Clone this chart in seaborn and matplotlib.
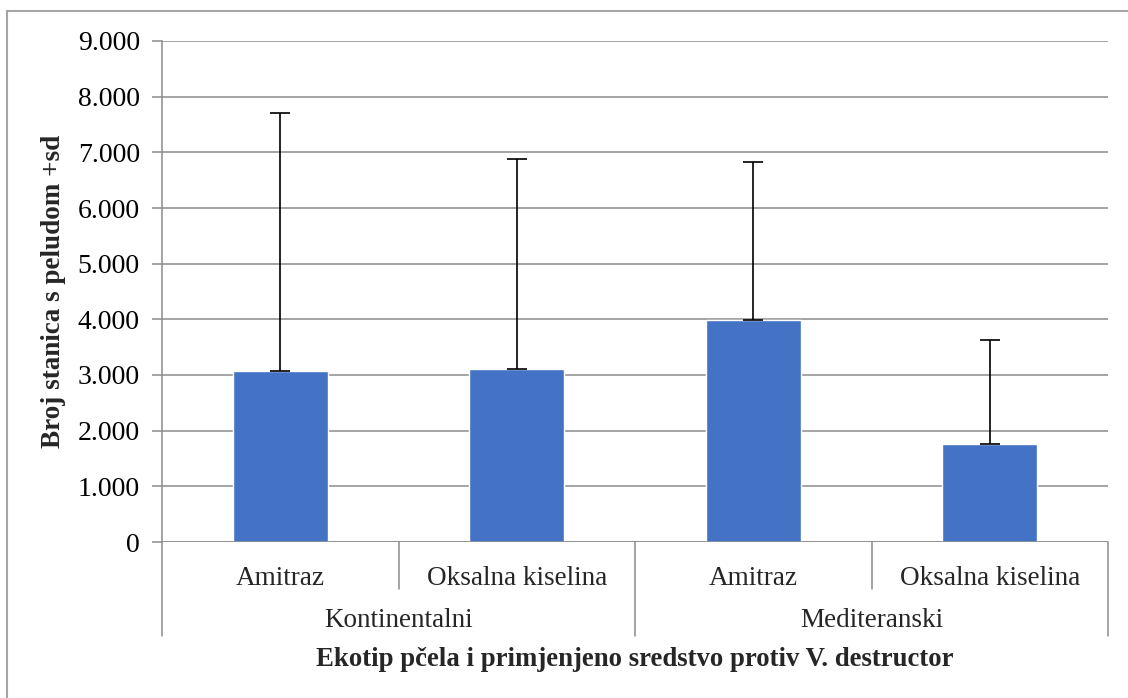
import numpy as np
import pandas as pd
import seaborn as sns
import matplotlib.pyplot as plt
from matplotlib.patches import Rectangle
from matplotlib.lines import Line2D
from matplotlib.ticker import FuncFormatter

# data
ekotip = ["Kontinentalni", "Kontinentalni", "Mediteranski", "Mediteranski"]
sredstvo = ["Amitraz", "Oksalna kiselina", "Amitraz", "Oksalna kiselina"]
srednja = [3070, 3100, 3990, 1760]
sd = [4640, 3780, 2830, 1870]

df = pd.DataFrame({"ekotip": ekotip, "sredstvo": sredstvo,
                   "vrijednost": srednja, "sd": sd})
df["grupa"] = [f"{e}|{s}" for e, s in zip(ekotip, sredstvo)]

sns.set_style("white")
plt.rcParams["font.family"] = ["Liberation Serif", "DejaVu Serif"]

fig = plt.figure(figsize=(11.28, 6.98), dpi=100)
ax = fig.add_axes([162 / 1128, 1 - 542 / 698, (1108 - 162) / 1128, (542 - 41) / 698])

sns.barplot(data=df, x="grupa", y="vrijednost", color="#4472C4", width=0.4,
            saturation=1, errorbar=None, ax=ax)
ax.errorbar(np.arange(len(df)), df["vrijednost"],
            yerr=[np.zeros(len(df)), df["sd"]], fmt="none",
            ecolor="black", elinewidth=1.2, capsize=7, capthick=1.2)

grid_c = "#8c8c8c"
ax.set_ylim(0, 9000)
ax.set_xlim(-0.5, 3.5)
ax.set_yticks(np.arange(0, 9001, 1000))
ax.yaxis.set_major_formatter(FuncFormatter(lambda v, p: f"{v/1000:.3f}" if v else "0"))
ax.yaxis.grid(True, color=grid_c, linewidth=1.1)
ax.set_axisbelow(True)
for s in ["top", "right", "bottom"]:
    ax.spines[s].set_visible(False)
ax.spines["left"].set_color(grid_c)
ax.spines["left"].set_linewidth(1.1)
ax.tick_params(axis="y", which="major", left=True, length=7, width=1.1,
               color=grid_c, labelsize=20, pad=9, labelcolor="black")
ax.set_xticks([])
ax.set_xlabel("")
ax.set_ylabel("Broj stanica s peludom +sd", fontsize=19.5, fontweight="bold")
ax.yaxis.set_label_coords(-0.101, 0.5)

# multi-level category axis
trans = ax.get_xaxis_transform()
ax.axhline(0, color=grid_c, linewidth=1.1, zorder=5)
for i, lab in enumerate(sredstvo):
    ax.text(i, -0.072, lab, transform=trans, ha="center", va="center",
            fontsize=19.5)
for xv in [0.5, 2.5]:
    ax.add_line(Line2D([xv, xv], [0, -0.094], transform=trans, color=grid_c,
                       linewidth=1.1, clip_on=False))
for xv in [-0.5, 1.5, 3.5]:
    ax.add_line(Line2D([xv, xv], [0, -0.188], transform=trans, color=grid_c,
                       linewidth=1.1, clip_on=False))
grupe = list(dict.fromkeys(ekotip))
for j, g in enumerate(grupe):
    ax.text(2 * j + 0.5, -0.156, g, transform=trans, ha="center", va="center",
            fontsize=19.5)

fig.text(635 / 1128, 1 - 660 / 698,
         "Ekotip pčela i primjenjeno sredstvo protiv V. destructor",
         ha="center", va="center", fontsize=19.3, fontweight="bold")

# outer chart border
fig.patches.append(Rectangle((7 / 1128, -0.05), 1.2, 1 - 11 / 698 + 0.05,
                             transform=fig.transFigure, fill=False,
                             edgecolor="#a6a6a6", linewidth=1.5))

fig.savefig("out.png", dpi=100)
